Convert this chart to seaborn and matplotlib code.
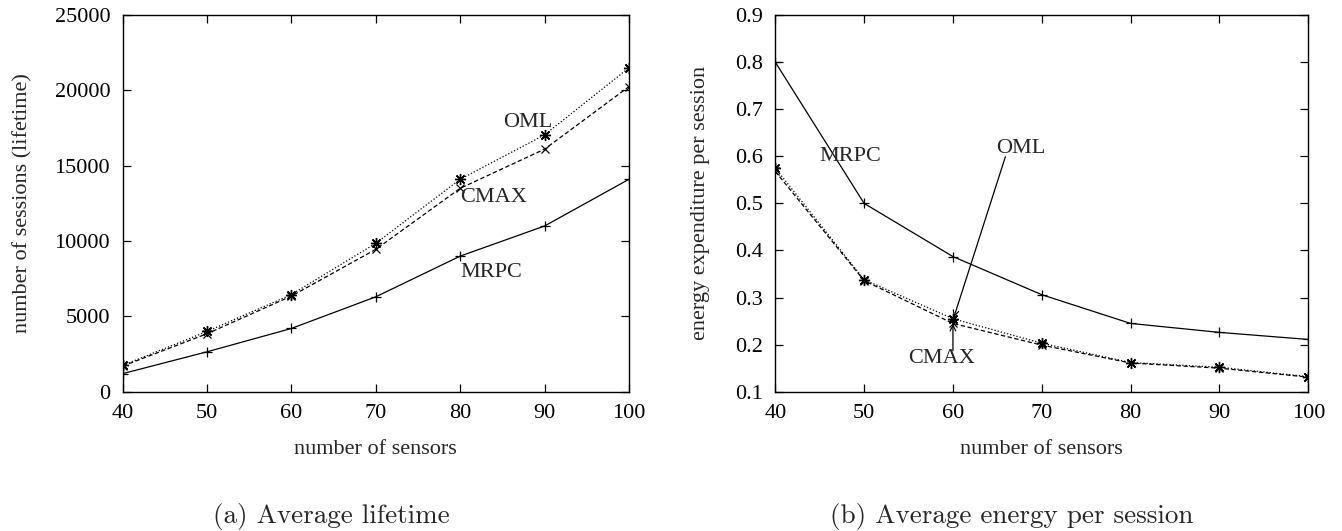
import seaborn as sns
import numpy as np
import pandas as pd
import matplotlib.pyplot as plt

sensors = [40, 50, 60, 70, 80, 90, 100]

# (a) lifetime, number of sessions
life_oml = [1750, 4000, 6450, 9850, 14100, 17050, 21500]
life_cmax = [1700, 3850, 6350, 9450, 13500, 16100, 20250]
life_mrpc = [1200, 2650, 4200, 6300, 9000, 11000, 14100]

# (b) energy per session
energy_mrpc = [0.80, 0.50, 0.387, 0.306, 0.245, 0.226, 0.211]
energy_oml = [0.575, 0.338, 0.255, 0.203, 0.162, 0.152, 0.132]
energy_cmax = [0.568, 0.336, 0.245, 0.199, 0.161, 0.150, 0.131]

sns.set_style("ticks")
plt.rcParams['font.family'] = ['Liberation Serif', 'DejaVu Serif']

fig = plt.figure(figsize=(13.42, 5.31), dpi=100)
ax1 = fig.add_axes([0.0914, 0.2623, 0.3773, 0.7094])
ax2 = fig.add_axes([0.5777, 0.2623, 0.3972, 0.7094])

star = (8, 2, 0)
lw = 0.9

def draw(ax, oml, cmax, mrpc):
    sns.lineplot(x=sensors, y=oml, ax=ax, color='k', lw=lw, linestyle=(0, (1, 1.6)),
                 marker=star, markersize=8, mew=1.0, mec='k')
    sns.lineplot(x=sensors, y=cmax, ax=ax, color='k', lw=lw, linestyle=(0, (3.5, 2)),
                 marker='x', markersize=6, mew=0.9, mec='k')
    sns.lineplot(x=sensors, y=mrpc, ax=ax, color='k', lw=lw, linestyle='-',
                 marker='+', markersize=7, mew=0.9, mec='k')
    ax.set_xlim(40, 100)
    ax.set_xticks(sensors)
    ax.tick_params(direction='in', length=6, width=0.9, top=True, right=True,
                   labelsize=16, pad=9, colors='k')
    for s in ax.spines.values():
        s.set_visible(True)
        s.set_linewidth(1.0)
        s.set_color('k')
    ax.set_xlabel("number of sensors", fontsize=16, labelpad=12)

draw(ax1, life_oml, life_cmax, life_mrpc)
ax1.set_ylim(0, 25000)
ax1.set_yticks(range(0, 25001, 5000))
ax1.set_ylabel("number of sessions (lifetime)", fontsize=16)
ax1.yaxis.set_label_coords(-0.179, 0.5)
ax1.text(85.1, 17900, "OML", fontsize=16, va='center', ha='left')
ax1.text(80, 12920, "CMAX", fontsize=16, va='center', ha='left')
ax1.text(80, 7940, "MRPC", fontsize=16, va='center', ha='left')

draw(ax2, energy_oml, energy_cmax, energy_mrpc)
ax2.set_ylim(0.1, 0.9)
ax2.set_yticks(np.arange(0.1, 0.91, 0.1))
ax2.set_yticklabels([f"{v:.1f}" for v in np.arange(0.1, 0.91, 0.1)])
ax2.set_ylabel("energy expenditure per session", fontsize=16)
ax2.yaxis.set_label_coords(-0.122, 0.5)
ax2.text(45, 0.599, "MRPC", fontsize=16, va='center', ha='left')
ax2.text(64.9, 0.616, "OML", fontsize=16, va='center', ha='left')
ax2.annotate("", xy=(60.1, 0.258), xytext=(65.9, 0.599),
             arrowprops=dict(arrowstyle='->', lw=0.9, color='k', shrinkA=0, shrinkB=0))
ax2.text(55, 0.170, "CMAX", fontsize=16, va='center', ha='left')
ax2.annotate("", xy=(60, 0.244), xytext=(60, 0.187),
             arrowprops=dict(arrowstyle='->', lw=0.9, color='k', shrinkA=0, shrinkB=0))

fig.text(331 / 1342, 8 / 531, "(a) Average lifetime", fontsize=19.5,
         family='cmr10', ha='center', va='baseline')
fig.text(1012 / 1342, 8 / 531, "(b) Average energy per session", fontsize=19.5,
         family='cmr10', ha='center', va='baseline')

fig.savefig("out.png", dpi=100)
